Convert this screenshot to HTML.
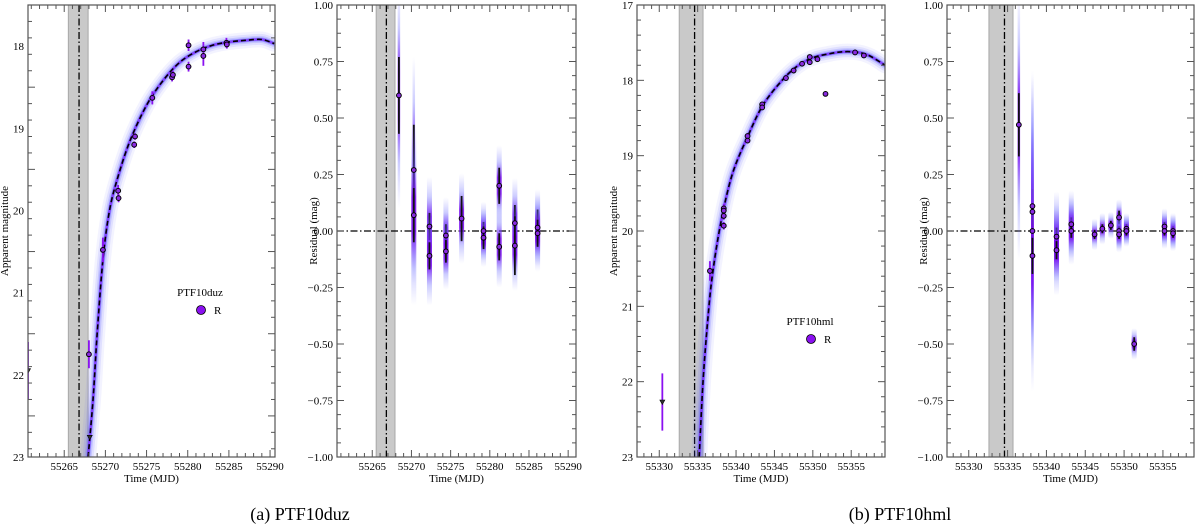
<!DOCTYPE html>
<html><head><meta charset="utf-8"><style>
html,body{margin:0;padding:0;background:#fff;}
svg{display:block;}
text{font-family:"Liberation Serif",serif;}
</style></head><body>
<svg id="fig" width="1200" height="527" viewBox="0 0 1200 527" xmlns="http://www.w3.org/2000/svg">
<defs>
<linearGradient id="blob" x1="0" y1="0" x2="0" y2="1">
<stop offset="0" stop-color="#8a8aff" stop-opacity="0"/>
<stop offset="0.2" stop-color="#7070ff" stop-opacity="0.35"/>
<stop offset="0.4" stop-color="#7a10f0" stop-opacity="0.9"/>
<stop offset="0.6" stop-color="#7a10f0" stop-opacity="0.9"/>
<stop offset="0.8" stop-color="#7070ff" stop-opacity="0.35"/>
<stop offset="1" stop-color="#8a8aff" stop-opacity="0"/>
</linearGradient>
</defs>
<text x="300" y="520" font-size="18" text-anchor="middle" font-family="Liberation Serif, serif">(a) PTF10duz</text>
<text x="900" y="520" font-size="18" text-anchor="middle" font-family="Liberation Serif, serif">(b) PTF10hml</text>
</svg>
<script>
// ---- Data: PTF10duz light curve ----
const lc1T = [55260.6,55268.0,55268.1,55269.7,55271.55,55271.6,55273.6,55273.5,55275.7,55278.1,55278.2,55280.1,55280.1,55281.9,55281.9,55284.7,55284.75];
const lc1M = [21.95,21.75,22.76,20.48,19.76,19.85,19.10,19.20,18.63,18.38,18.35,17.99,18.25,18.04,18.12,17.96,17.98];
const lc1E = [0.35,0.17,0.0,0.15,0.07,0.05,0.04,0.04,0.08,0.05,0.05,0.07,0.06,0.09,0.12,0.06,0.05];
const lc1Lim = [1,0,1,0,0,0,0,0,0,0,0,0,0,0,0,0,0];
const mod1T = [55267.9,55268.5,55269.0,55269.7,55270.5,55271.5,55273,55275,55277,55279,55281,55283,55285,55287,55289,55290.5];
const mod1M = [23.0,22.3,21.5,20.6,20.0,19.6,19.15,18.72,18.42,18.2,18.07,17.99,17.95,17.93,17.92,17.97];
// ---- Residuals PTF10duz ----
const res1T = [55268.4,55270.3,55270.3,55272.3,55272.3,55274.4,55274.4,55276.4,55279.2,55279.2,55281.2,55281.2,55283.2,55283.2,55286.1,55286.1];
const res1R = [0.60,0.27,0.07,0.02,-0.11,-0.02,-0.09,0.055,0.0,-0.03,0.20,-0.07,0.035,-0.065,0.015,-0.01];
const res1E = [0.17,0.2,0.12,0.06,0.06,0.05,0.05,0.1,0.04,0.05,0.08,0.06,0.08,0.13,0.08,0.06];
const res1B = [0.5,0.5,0.4,0.22,0.22,0.17,0.17,0.2,0.13,0.13,0.18,0.18,0.2,0.2,0.17,0.17];
// ---- Data: PTF10hml light curve ----
const lc2T = [55330.4,55336.6,55338.4,55338.4,55338.4,55338.4,55341.5,55341.5,55343.4,55343.4,55346.5,55347.5,55348.6,55349.6,55349.6,55350.6,55351.65,55355.5,55356.65];
const lc2M = [22.27,20.53,19.70,19.73,19.80,19.93,18.74,18.80,18.32,18.36,17.97,17.87,17.78,17.69,17.76,17.72,18.18,17.63,17.67];
const lc2E = [0.38,0.13,0.06,0.05,0.05,0.05,0.04,0.03,0.03,0.03,0.02,0.02,0.02,0.02,0.02,0.02,0.03,0.02,0.02];
const lc2Lim = [1,0,0,0,0,0,0,0,0,0,0,0,0,0,0,0,0,0,0];
const mod2T = [55335.2,55335.7,55336.3,55336.9,55338,55339.5,55341.5,55343.5,55346,55348,55350,55352,55354,55356,55357.5,55359.4];
const mod2M = [23.0,22.0,21.2,20.6,19.9,19.25,18.75,18.33,18.0,17.81,17.7,17.65,17.62,17.63,17.68,17.8];
// ---- Residuals PTF10hml ----
const res2T = [55336.45,55338.2,55338.2,55338.2,55338.2,55341.3,55341.3,55343.2,55343.2,55346.2,55347.2,55348.3,55349.35,55349.35,55349.35,55350.3,55350.3,55351.3,55355.2,55355.2,55356.3,55356.3];
const res2R = [0.47,0.11,0.085,0.0,-0.11,-0.025,-0.085,0.03,0.0,-0.015,0.01,0.025,0.06,0.0,-0.015,0.01,0.0,-0.5,0.02,0.0,0.0,-0.01];
const res2E = [0.14,0.1,0.1,0.1,0.08,0.04,0.04,0.03,0.03,0.02,0.02,0.02,0.03,0.02,0.02,0.02,0.02,0.03,0.02,0.02,0.02,0.02];
const res2B = [0.6,0.6,0.6,0.6,0.6,0.2,0.2,0.15,0.15,0.07,0.07,0.06,0.08,0.08,0.08,0.07,0.07,0.07,0.08,0.08,0.08,0.08];
const xTicks1 = [55265,55270,55275,55280,55285,55290];
const xTicks2 = [55330,55335,55340,55345,55350,55355];
const magTicks1 = [18,19,20,21,22,23];
const magTicks2 = [17,18,19,20,21,22,23];
const resTicks = [1,0.75,0.5,0.25,0,-0.25,-0.5,-0.75,-1];

const NS = "http://www.w3.org/2000/svg";
const svg = document.getElementById('fig');
function mk(tag, attrs, parent){
  const e = document.createElementNS(NS, tag);
  for (const k in attrs) e.setAttribute(k, attrs[k]);
  if (tag==='text') e.setAttribute('font-family','Liberation Serif, serif');
  (parent||svg).appendChild(e);
  return e;
}
function smoothPath(pts){
  let d = "M"+pts[0][0]+","+pts[0][1];
  for (let i=0;i<pts.length-1;i++){
    const p0=pts[Math.max(0,i-1)], p1=pts[i], p2=pts[i+1], p3=pts[Math.min(pts.length-1,i+2)];
    const c1x=p1[0]+(p2[0]-p0[0])/6, c1y=p1[1]+(p2[1]-p0[1])/6;
    const c2x=p2[0]-(p3[0]-p1[0])/6, c2y=p2[1]-(p3[1]-p1[1])/6;
    d += " C"+c1x+","+c1y+" "+c2x+","+c2y+" "+p2[0]+","+p2[1];
  }
  return d;
}
function fmt(v){ const s=Math.abs(v).toFixed(2); return (v<0?"\u2212":"")+s; }

function panel(o){
  const g = mk('g',{});
  
  
  const X = t => o.x0 + (t-o.t0)/(o.t1-o.t0)*(o.x1-o.x0);
  const Y = v => o.y0 + (v-o.v0)/(o.v1-o.v0)*(o.y1-o.y0);
  const clipId = o.name+'-clip';
  const cp = mk('clipPath',{id:clipId}, g);
  mk('rect',{x:o.x0,y:o.y0,width:o.x1-o.x0,height:o.y1-o.y0},cp);
  const inner = mk('g',{'clip-path':'url(#'+clipId+')'}, g);
  const sh = mk('rect',{x:X(o.sh0),y:o.y0,width:X(o.sh1)-X(o.sh0),height:o.y1-o.y0,fill:'#c9c9c9',stroke:'#a8a8a8','stroke-width':1},inner);
  
  
  const el = mk('line',{x1:X(o.tExp),x2:X(o.tExp),y1:o.y0,y2:o.y1,stroke:'#000','stroke-width':1.3,'stroke-dasharray':'7,2.5,1.5,2.5'},inner);
  
  
  if (o.resid){
    const zl = mk('line',{x1:o.x0,x2:o.x1,y1:Y(0),y2:Y(0),stroke:'#000','stroke-width':1.3,'stroke-dasharray':'7,2.5,1.5,2.5'},inner);
    
    
    for (let i=0;i<o.T.length;i++){
      const x=X(o.T[i]), r=o.R[i], b=o.B[i], e=o.E[i];
      const w = b>0.4?2.5:5;
      const bl = mk('rect',{x:x-w/2,y:Y(r+b),width:w,height:Y(r-b)-Y(r+b),fill:'url(#blob)',rx:w/2},inner);
      
      
      const eb = mk('line',{x1:x,x2:x,y1:Y(r+e),y2:Y(r-e),stroke:'#111','stroke-width':1.8},inner);
      
      
    }
    for (let i=0;i<o.T.length;i++){
      const c = mk('circle',{cx:X(o.T[i]),cy:Y(o.R[i]),r:2.4,fill:'#8a2be2',stroke:'#000','stroke-width':1},inner);
      
      
    }
  } else {
    const pts = o.MT.map((t,i)=>[X(t),Y(o.MM[i])]);
    const d = smoothPath(pts);
    const spread=[[16,0.07],[11,0.12],[7,0.2],[4,0.45]];
    spread.forEach(s=>{
      const bp = mk('path',{d:d,fill:'none',stroke:'#5a5aff','stroke-width':s[0],'stroke-opacity':s[1],'stroke-linecap':'round'},inner);
      
      
    });
    const core = mk('path',{d:d,fill:'none',stroke:'#7a20ff','stroke-width':2.5,'stroke-opacity':0.7},inner);
    
    
    const ml = mk('path',{d:d,fill:'none',stroke:'#000','stroke-width':1.6,'stroke-dasharray':'5,3'},inner);
    
    
    for (let i=0;i<o.T.length;i++){
      const x=X(o.T[i]), m=o.M[i], e=o.E[i];
      if (e>0){
        const eb = mk('line',{x1:x,x2:x,y1:Y(m-e),y2:Y(m+e),stroke:'#8a10f0','stroke-width':1.8},inner);
        
        
      }
    }
    for (let i=0;i<o.T.length;i++){
      const x=X(o.T[i]), y=Y(o.M[i]);
      let p;
      if (o.L[i]) p = mk('path',{d:`M${x-2.5},${y-2} L${x+2.5},${y-2} L${x},${y+2.5} Z`,fill:'#333',stroke:'#000','stroke-width':0.6},inner);
      else p = mk('circle',{cx:x,cy:y,r:2.4,fill:'#8a2be2',stroke:'#000','stroke-width':1},inner);
      
      
    }
    const lt = mk('text',{x:o.legX,y:o.legY,'font-size':11,'text-anchor':'middle'},g);
    lt.textContent = o.legTitle;
    
    
    const lm = mk('circle',{cx:o.legX+1,cy:o.legY+14,r:4.5,fill:'#8a10f0',stroke:'#000','stroke-width':0.8},g);
    
    
    const lr = mk('text',{x:o.legX+14,y:o.legY+18,'font-size':11},g);
    lr.textContent = 'R';
    
    
  }
  const fr = mk('rect',{x:o.x0,y:o.y0,width:o.x1-o.x0,height:o.y1-o.y0,fill:'none',stroke:'#555','stroke-width':1.2},g);
  
  
  const tk = mk('g',{stroke:'#555','stroke-width':1},g);
  for (let t=Math.ceil(o.t0); t<=o.t1; t++){
    const x=X(t), maj = (t%5===0), L = maj?7:4;
    mk('line',{x1:x,x2:x,y1:o.y1,y2:o.y1-L},tk);
    mk('line',{x1:x,x2:x,y1:o.y0,y2:o.y0+L},tk);
  }
  o.xt.forEach(t=>{
    const tx = mk('text',{x:X(t),y:o.y1+13,'font-size':11,'text-anchor':'middle'},g);
    tx.textContent = t;
    
    
  });
  const step = o.resid?0.0625:0.2;
  const lo = Math.min(o.v0,o.v1), hi = Math.max(o.v0,o.v1);
  for (let k=0; lo+k*step<=hi+1e-9; k++){
    const v = lo+k*step, y=Y(v);
    const maj = o.resid ? (k%4===0) : (k%5===0);
    const L = maj?7:4;
    mk('line',{x1:o.x0,x2:o.x0+L,y1:y,y2:y},tk);
    mk('line',{x1:o.x1,x2:o.x1-L,y1:y,y2:y},tk);
  }
  o.yt.forEach(v=>{
    const ty = mk('text',{x:o.x0-4,y:Y(v)+4,'font-size':11,'text-anchor':'end'},g);
    ty.textContent = o.resid?fmt(v):v;
    
    
  });
  const xl = mk('text',{x:(o.x0+o.x1)/2,y:o.y1+25,'font-size':11,'text-anchor':'middle'},g);
  xl.textContent = 'Time (MJD)';
  
  
  const yx = o.x0-20, yy=(o.y0+o.y1)/2;
  const yl = mk('text',{x:yx,y:yy,'font-size':11,'text-anchor':'middle',transform:`rotate(-90 ${yx} ${yy})`},g);
  yl.textContent = o.resid?'Residual (mag)':'Apparent magnitude';
  
  
}

panel({name:'ptf10duz-lightcurve',x0:28,x1:275,y0:5,y1:457,t0:55260.6,t1:55290.6,v0:17.5,v1:23,
  sh0:55265.5,sh1:55267.9,tExp:55266.8,T:lc1T,M:lc1M,E:lc1E,L:lc1Lim,MT:mod1T,MM:mod1M,
  xt:xTicks1,yt:magTicks1,legX:200,legY:296,legTitle:'PTF10duz'});
panel({name:'ptf10duz-residuals',resid:true,x0:337,x1:576,y0:5,y1:457,t0:55260.5,t1:55291,v0:1,v1:-1,
  sh0:55265.5,sh1:55267.9,tExp:55266.8,T:res1T,R:res1R,E:res1E,B:res1B,xt:xTicks1,yt:resTicks});
panel({name:'ptf10hml-lightcurve',x0:637,x1:885,y0:5,y1:457,t0:55327.1,t1:55359.4,v0:17,v1:23,
  sh0:55332.6,sh1:55335.7,tExp:55334.6,T:lc2T,M:lc2M,E:lc2E,L:lc2Lim,MT:mod2T,MM:mod2M,
  xt:xTicks2,yt:magTicks2,legX:810,legY:325,legTitle:'PTF10hml'});
panel({name:'ptf10hml-residuals',resid:true,x0:947,x1:1194,y0:5,y1:457,t0:55327.2,t1:55359.0,v0:1,v1:-1,
  sh0:55332.6,sh1:55335.7,tExp:55334.6,T:res2T,R:res2R,E:res2E,B:res2B,xt:xTicks2,yt:resTicks});
</script>
</body></html>
